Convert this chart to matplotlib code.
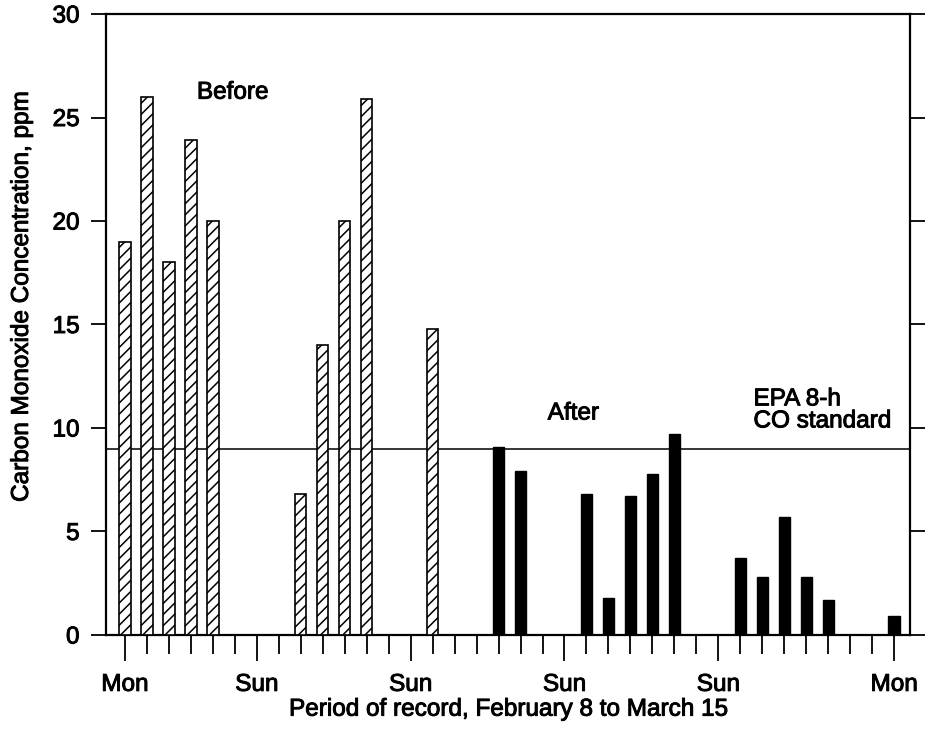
import matplotlib
matplotlib.use("Agg")
import matplotlib.pyplot as plt
import matplotlib.patheffects as pe
from matplotlib.ticker import FixedLocator, NullFormatter

plt.rcParams['font.family'] = ['Liberation Sans', 'DejaVu Sans']
plt.rcParams['hatch.linewidth'] = 1.1

# Days counted from Monday, February 8 (day 0) to Monday, March 15 (day 35)
before_days = [0, 1, 2, 3, 4, 8, 9, 10, 11, 14]
before_ppm = [19, 26, 18, 23.9, 20, 6.8, 14, 20, 25.9, 14.8]

after_days = [17, 18, 21, 22, 23, 24, 25, 28, 29, 30, 31, 32, 35]
after_ppm = [9.1, 7.9, 6.8, 1.8, 6.7, 7.8, 9.7, 3.7, 2.8, 5.7, 2.8, 1.7, 0.9]

epa_standard = 9.0

label_days = [0, 6, 13, 20, 27, 35]
label_names = ['Mon', 'Sun', 'Sun', 'Sun', 'Sun', 'Mon']
all_days = list(range(0, 36))

FS = 17.5
heavy = [pe.withStroke(linewidth=0.7, foreground='black')]

fig = plt.figure(figsize=(9.3, 7.38), dpi=100)
ax = fig.add_axes([0.114, 0.1396, 0.864, 0.8414])

bar_w = 0.52
ax.bar(before_days, before_ppm, width=bar_w, color='white', edgecolor='black',
       hatch='///', linewidth=1.2, zorder=3)
ax.bar(after_days, after_ppm, width=bar_w, color='black', edgecolor='black',
       linewidth=1.0, zorder=3)

ax.axhline(epa_standard, color='black', linewidth=1.1, zorder=2)

ax.set_xlim(-0.86, 35.7)
ax.set_ylim(0, 30)

for s in ax.spines.values():
    s.set_linewidth(1.6)

ax.yaxis.set_major_locator(FixedLocator([0, 5, 10, 15, 20, 25, 30]))
ax.tick_params(axis='y', which='major', direction='out', length=11, width=1.3,
               labelsize=FS, pad=8, left=True, right=True)

ax.xaxis.set_major_locator(FixedLocator(label_days))
ax.xaxis.set_minor_locator(FixedLocator([d for d in all_days if d not in label_days]))
ax.set_xticklabels(label_names)
ax.xaxis.set_minor_formatter(NullFormatter())
ax.tick_params(axis='x', which='major', direction='out', length=19, width=1.3,
               labelsize=FS, pad=9)
ax.tick_params(axis='x', which='minor', direction='out', length=14, width=1.3)

for lab in ax.get_xticklabels() + ax.get_yticklabels():
    lab.set_path_effects(heavy)

ax.set_ylabel('Carbon Monoxide Concentration, ppm', fontsize=FS, path_effects=heavy)
ax.yaxis.set_label_coords(-0.091, 0.544)
ax.set_xlabel('Period of record, February 8 to March 15', fontsize=FS,
              labelpad=2, path_effects=heavy)

ax.text(4.9, 26.2, 'Before', fontsize=FS, ha='center', va='center', path_effects=heavy)
ax.text(20.4, 10.7, 'After', fontsize=FS, ha='center', va='center', path_effects=heavy)
ax.text(28.6, 10.85, 'EPA 8-h\nCO standard', fontsize=FS, ha='left', va='center',
        linespacing=1.0, path_effects=heavy)

fig.savefig('out.png', dpi=100)
